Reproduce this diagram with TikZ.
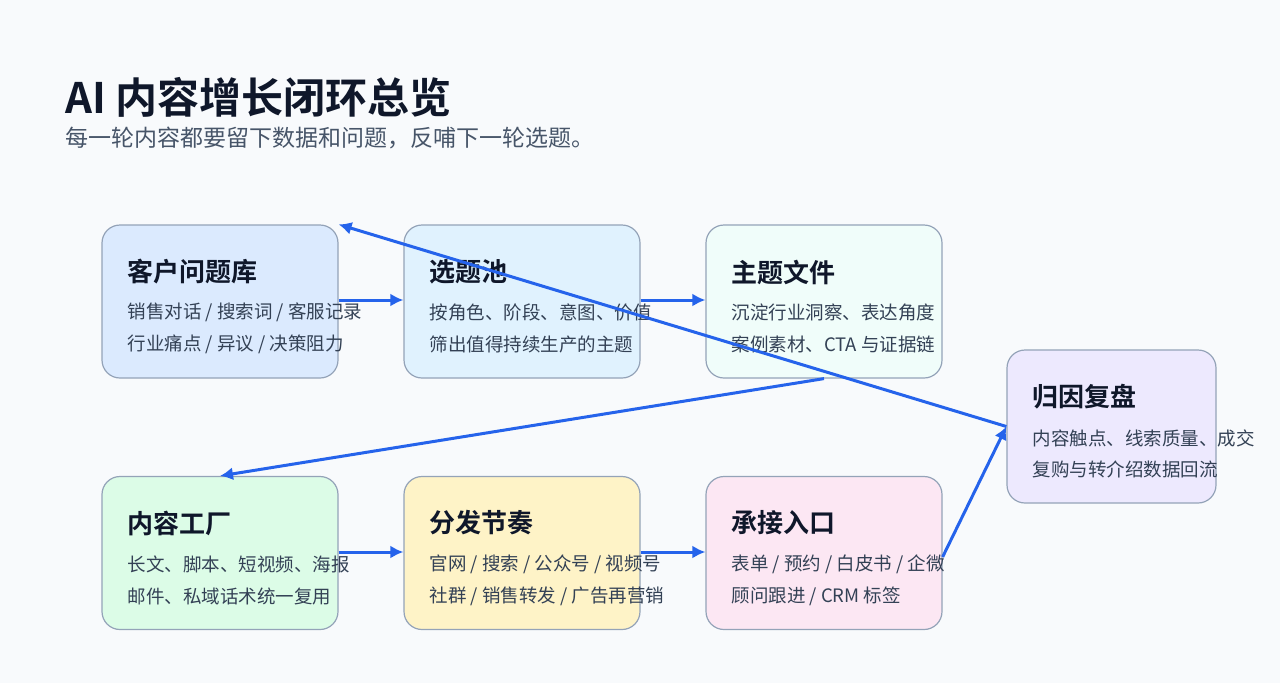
\documentclass[tikz,border=0pt]{standalone}
\usepackage{fontspec}
\setmainfont{Noto Sans CJK SC}
\newfontfamily\cjkb{Noto Sans CJK SC Bold}
\usetikzlibrary{arrows.meta}
\definecolor{bg}{HTML}{F8FAFC}
\definecolor{ink}{HTML}{0F172A}
\definecolor{sub}{HTML}{475569}
\definecolor{bodyc}{HTML}{334155}
\definecolor{edge}{HTML}{94A3B8}
\definecolor{arr}{HTML}{2563EB}
\definecolor{fa}{HTML}{DBEAFE}
\definecolor{fb}{HTML}{E0F2FE}
\definecolor{fc}{HTML}{F0FDFA}
\definecolor{fd}{HTML}{EDE9FE}
\definecolor{fe}{HTML}{DCFCE7}
\definecolor{ff}{HTML}{FEF3C7}
\definecolor{fg}{HTML}{FCE7F3}
\begin{document}
\begin{tikzpicture}[x=1pt,y=-1pt,
  box/.style={draw=edge,line width=1.2pt,rounded corners=18pt,minimum width=236pt,minimum height=153pt,inner sep=0pt},
  ttl/.style={anchor=west,text=ink,font=\cjkb\fontsize{26}{30}\selectfont},
  bod/.style={anchor=west,text=bodyc,font=\fontsize{18.5}{22}\selectfont},
  link/.style={draw=arr,line width=3pt,-{Latex[length=13pt,width=13pt]}}]
\fill[bg] (0,0) rectangle (1280,683);
\useasboundingbox (0,0) rectangle (1280,683);
\node[anchor=base west,text=ink,font=\cjkb\fontsize{42}{46}\selectfont] (t) at (62,113) {AI 内容增长闭环总览};
\node[anchor=base west,text=sub,font=\fontsize{23}{27}\selectfont] (s) at (62,146) {每一轮内容都要留下数据和问题，反哺下一轮选题。};
\node[box,fill=fa] (A) at (220,301.5) {};
\node[box,fill=fb] (B) at (522,301.5) {};
\node[box,fill=fc] (C) at (824,301.5) {};
\node[box,fill=fd,minimum width=209pt] (D) at (1111.5,426.5) {};
\node[box,fill=fe] (E) at (220,553) {};
\node[box,fill=ff] (F) at (522,553) {};
\node[box,fill=fg] (G) at (824,553) {};
\node[ttl] (At) at (124,272) {客户问题库};
\node[bod] (A1) at (124,312) {销售对话 / 搜索词 / 客服记录};
\node[bod] (A2) at (124,344) {行业痛点 / 异议 / 决策阻力};
\node[ttl] (Bt) at (426,272) {选题池};
\node[bod] (B1) at (426,312) {按角色、阶段、意图、价值};
\node[bod] (B2) at (426,344) {筛出值得持续生产的主题};
\node[ttl] (Ct) at (728,272) {主题文件};
\node[bod] (C1) at (728,312) {沉淀行业洞察、表达角度};
\node[bod] (C2) at (728,344) {案例素材、CTA 与证据链};
\node[ttl] (Dt) at (1029,397) {归因复盘};
\node[bod] (D1) at (1029,438) {内容触点、线索质量、成交};
\node[bod] (D2) at (1029,469) {复购与转介绍数据回流};
\node[ttl] (Et) at (124,523) {内容工厂};
\node[bod] (E1) at (124,564) {长文、脚本、短视频、海报};
\node[bod] (E2) at (124,596) {邮件、私域话术统一复用};
\node[ttl] (Ft) at (426,523) {分发节奏};
\node[bod] (F1) at (426,564) {官网 / 搜索 / 公众号 / 视频号};
\node[bod] (F2) at (426,596) {社群 / 销售转发 / 广告再营销};
\node[ttl] (Gt) at (728,523) {承接入口};
\node[bod] (G1) at (728,564) {表单 / 预约 / 白皮书 / 企微};
\node[bod] (G2) at (728,596) {顾问跟进 / CRM 标签};
\draw[link] (A.east |- 0,300) -- (B.west |- 0,300);
\draw[link] (B.east |- 0,300) -- (C.west |- 0,300);
\draw[link] (C.south) -- (E.north);
\draw[link] (E.east |- 0,552) -- (F.west |- 0,552);
\draw[link] (F.east |- 0,552) -- (G.west |- 0,552);
\draw[link] (G.east |- 0,557) -- (D.west);
\draw[link] (D.west) -- (A.north east);
\end{tikzpicture}
\end{document}
